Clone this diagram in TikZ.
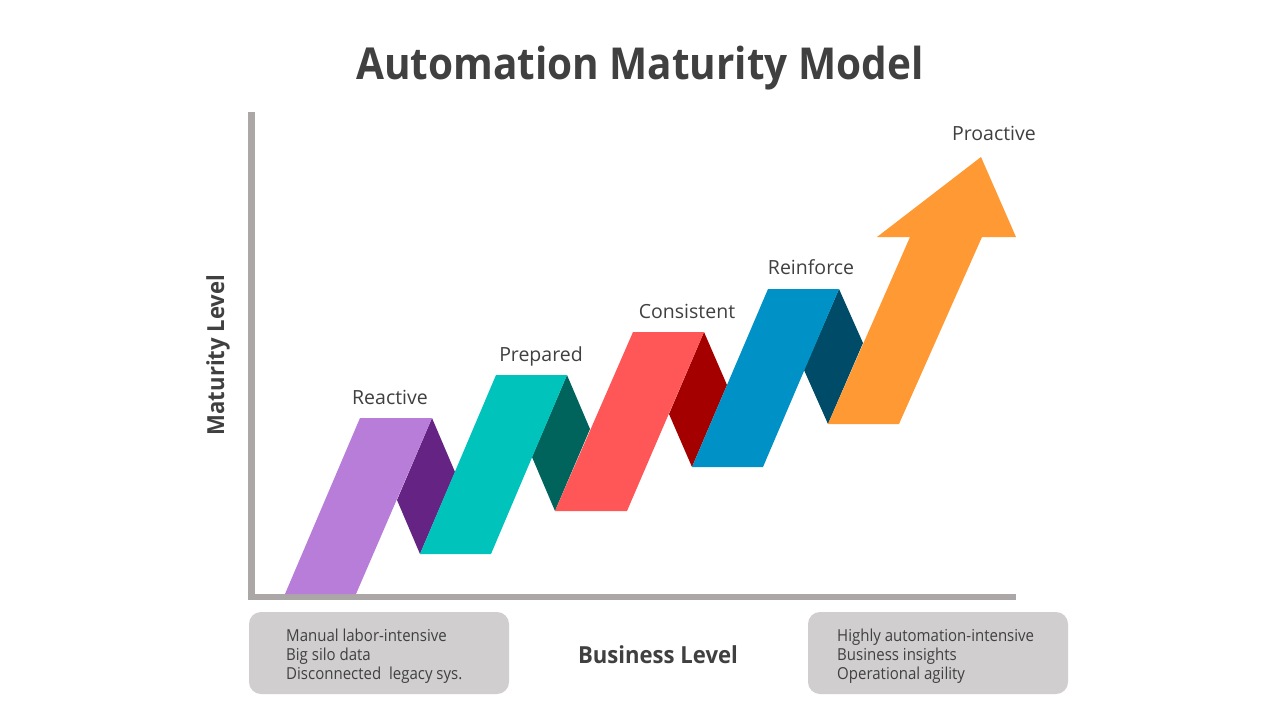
\documentclass[tikz,border=0pt]{standalone}
\usepackage{fontspec}
\setmainfont{Open Sans}
\newfontfamily\condfont[FakeStretch=0.91]{Open Sans}
\newfontfamily\axisfont[FakeStretch=0.94]{Open Sans}
\newfontfamily\titlefont[FakeStretch=0.92]{Open Sans}
\definecolor{txt}{HTML}{404040}
\definecolor{axisgray}{HTML}{ABA7A7}
\definecolor{boxgray}{HTML}{D0CECE}
\definecolor{cpurple}{HTML}{B87CD9}
\definecolor{dpurple}{HTML}{652483}
\definecolor{cteal}{HTML}{00C4BB}
\definecolor{dteal}{HTML}{00645D}
\definecolor{cred}{HTML}{FF5757}
\definecolor{dred}{HTML}{A50000}
\definecolor{cblue}{HTML}{0091C6}
\definecolor{dblue}{HTML}{004C68}
\definecolor{corange}{HTML}{FF9933}
\tikzset{
  steplabel/.style={text=txt, font=\fontsize{19.5}{22}\selectfont, anchor=base, inner sep=0pt},
  infobox/.style={fill=boxgray, rounded corners=12pt, minimum width=260pt, minimum height=82pt, inner sep=0pt},
  infotext/.style={text=txt, font=\condfont\fontsize{16.5}{19}\selectfont, align=left, anchor=west, inner sep=0pt},
  axislabel/.style={text=txt, font=\axisfont\bfseries\fontsize{23.5}{26}\selectfont, inner sep=0pt}
}
\begin{document}
\begin{tikzpicture}[x=1pt,y=-1pt]
\useasboundingbox (0,0) rectangle (1280,720);
\fill[white] (0,0) rectangle (1280,720);
% title
\node[text=txt, font=\titlefont\bfseries\fontsize{44}{50}\selectfont, anchor=base, inner sep=0pt] (title) at (640,79) {Automation Maturity Model};
% axes
\fill[axisgray] (248,112) rectangle (255,600);
\fill[axisgray] (248,594) rectangle (1016,600);
% folds
\fill[dpurple] (432,418) -- (397,500) -- (420,554) -- (455,472) -- cycle;
\fill[dteal] (567,375) -- (532,457) -- (555,511) -- (590,429) -- cycle;
\fill[dred] (704,332) -- (669,414) -- (692,467) -- (727,385) -- cycle;
\fill[dblue] (839,289) -- (804,370) -- (828,424) -- (863,343) -- cycle;
% bands
\fill[cpurple] (285,594) -- (356,594) -- (432,418) -- (360,418) -- cycle;
\fill[cteal] (420,554) -- (491,554) -- (567,375) -- (496,375) -- cycle;
\fill[cred] (555,511) -- (627,511) -- (704,332) -- (633,332) -- cycle;
\fill[cblue] (692,467) -- (763,467) -- (839,289) -- (768,289) -- cycle;
\fill[corange] (828,424) -- (899,424) -- (982,237) -- (1016,237) -- (981,157) -- (877,237) -- (910,237) -- cycle;
% step labels
\node[steplabel] (reactive) at (390,404) {Reactive};
\node[steplabel] (prepared) at (541,361) {Prepared};
\node[steplabel] (consistent) at (687,318) {Consistent};
\node[steplabel] (reinforce) at (811,274) {Reinforce};
\node[steplabel] (proactive) at (994,140) {Proactive};
% axis labels
\node[axislabel, rotate=90] (ylabel) at (218,355) {Maturity Level};
\node[axislabel] (xlabel) at (658,655) {Business Level};
% bottom boxes
\node[infobox] (lbox) at (379,653) {};
\node[infobox] (rbox) at (938,653) {};
\node[infotext] (ltext) at (286,656) {Manual labor-intensive\\Big silo data\\Disconnected\ \ legacy sys.};
\node[infotext] (rtext) at (837,656) {Highly automation-intensive\\Business insights\\Operational agility};
\end{tikzpicture}
\end{document}
